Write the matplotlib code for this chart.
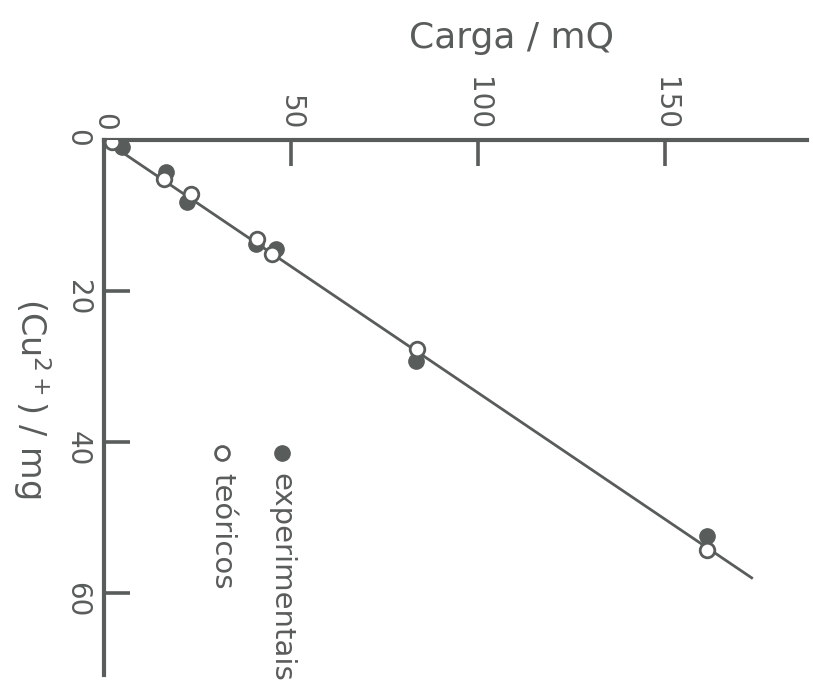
import numpy as np
import matplotlib.pyplot as plt

# charge (mQ) and copper mass (mg)
carga_exp = [4.8, 16.6, 22.2, 40.7, 46.1, 83.5, 161.2]
cu_exp = [0.9, 4.2, 8.2, 13.8, 14.4, 29.3, 52.5]
carga_teo = [2.1, 16.1, 23.3, 41.0, 45.0, 83.8, 161.2]
cu_teo = [0.3, 5.2, 7.2, 13.1, 15.1, 27.7, 54.4]

# straight line through the origin
slope = 0.335
line_q = [0.0, 173.2]

xticks = [0, 50, 100, 150]
yticks = [0, 20, 40, 60]

ink = '#585c5a'
plt.rcParams['font.family'] = ['DejaVu Sans']
plt.rcParams['mathtext.default'] = 'regular'

fig = plt.figure(figsize=(8.13, 6.95), dpi=100)
ax = fig.add_axes([104 / 813, 20 / 695, 703 / 813, 535 / 695])

q = np.array(line_q)
ax.plot(q, slope * q, color=ink, lw=2.0, zorder=2)
ax.plot(carga_exp, cu_exp, 'o', ms=11, color=ink, mec=ink, zorder=3)
ax.plot(carga_teo, cu_teo, 'o', ms=10.5, mfc='white', mec=ink, mew=2.0, zorder=4)

ax.set_xlim(0, 188)
ax.set_ylim(70.9, 0)

ax.xaxis.tick_top()
ax.set_xticks(xticks)
ax.set_yticks(yticks)
ax.tick_params(direction='in', length=19, width=2.6, color=ink,
               labelcolor=ink, labelsize=20)
ax.tick_params(axis='x', pad=7, labelrotation=-90)
ax.tick_params(axis='y', pad=9, labelrotation=-90)

for side in ['right', 'bottom']:
    ax.spines[side].set_visible(False)
for side in ['left', 'top']:
    ax.spines[side].set_linewidth(3.0)
    ax.spines[side].set_color(ink)

ax.xaxis.set_label_position('top')
ax.set_xlabel('Carga / mQ', fontsize=26, color=ink, va='center')
ax.xaxis.set_label_coords(0.58, 1.19)
ax.set_ylabel('(Cu$^{2+}$) / mg', fontsize=24, color=ink,
              rotation=-90, va='center', ha='center')
ax.yaxis.set_label_coords(-0.102, 0.518)

# hand-drawn style legend, rotated like the rest of the figure
ax.plot([0.253], [0.415], 'o', ms=11, color=ink, transform=ax.transAxes,
        clip_on=False)
ax.plot([0.168], [0.415], 'o', ms=10, mfc='white', mec=ink, mew=2.0,
        transform=ax.transAxes, clip_on=False)
ax.text(0.253, 0.378, 'experimentais', rotation=-90, fontsize=21, color=ink,
        ha='center', va='top', transform=ax.transAxes)
ax.text(0.168, 0.378, 'teóricos', rotation=-90, fontsize=21, color=ink,
        ha='center', va='top', transform=ax.transAxes)

fig.savefig('out.png', dpi=100, facecolor='white')
